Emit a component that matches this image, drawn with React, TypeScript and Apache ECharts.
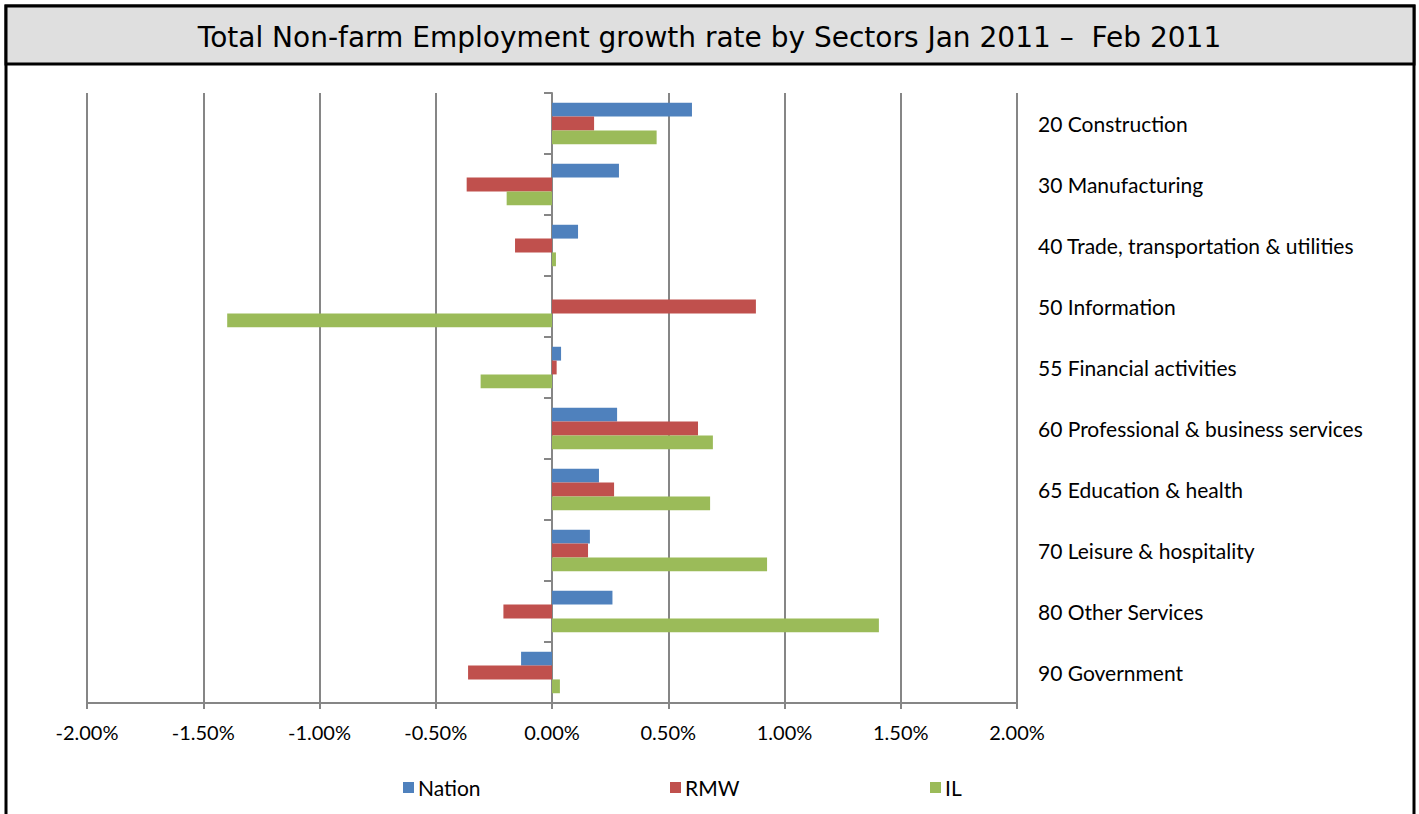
import React, { useEffect, useRef } from "react";
import * as echarts from "echarts";

const categories = [
  "20 Construction",
  "30 Manufacturing",
  "40 Trade, transportation & utilities",
  "50 Information",
  "55 Financial activities",
  "60 Professional & business services",
  "65 Education & health",
  "70 Leisure & hospitality",
  "80 Other Services",
  "90 Government",
];

const nation = [0.602, 0.288, 0.112, 0.0, 0.039, 0.28, 0.202, 0.163, 0.26, -0.133];
const rmw = [0.181, -0.367, -0.159, 0.877, 0.02, 0.628, 0.267, 0.155, -0.209, -0.361];
const il = [0.45, -0.195, 0.017, -1.397, -0.307, 0.692, 0.68, 0.925, 1.406, 0.034];

const seriesNames = ["Nation", "RMW", "IL"];
const colors = ["#4f81bd", "#c0504d", "#9bbb59"];

const titleText = "Total Non-farm Employment growth rate by Sectors Jan 2011 \u2013  Feb 2011";

export default function App() {
  const ref = useRef<HTMLDivElement>(null);
  useEffect(() => {
    if (!ref.current) return;
    const chart = echarts.init(ref.current, null, { renderer: "svg" });
    const font = "Lato, 'Open Sans', sans-serif";
    const legendLefts = [398, 665, 925];
    chart.setOption({
      animation: false,
      backgroundColor: "#ffffff",
      title: {
        text: titleText,
        left: "center",
        top: 18,
        textStyle: {
          fontFamily: "'DejaVu Sans', Verdana, sans-serif",
          fontSize: 28,
          fontWeight: "normal",
          color: "#000",
        },
      },
      graphic: [
        {
          type: "rect",
          z: 0,
          shape: { x: 6, y: 6, width: 1408, height: 830 },
          style: { fill: "none", stroke: "#000", lineWidth: 3 },
        },
        {
          type: "rect",
          z: 0,
          shape: { x: 6, y: 6, width: 1408, height: 58 },
          style: { fill: "#dfdfdf", stroke: "#000", lineWidth: 3 },
        },
      ],
      legend: seriesNames.map((n, i) => ({
        data: [n],
        left: legendLefts[i],
        top: 772,
        itemWidth: 11,
        itemHeight: 11,
        itemGap: 6,
        icon: "rect",
        textStyle: { fontFamily: font, fontSize: 21, color: "#000", padding: [0, 0, 0, -1] },
      })),
      grid: { left: 87, right: 402, top: 93, bottom: 111, containLabel: false },
      xAxis: {
        type: "value",
        min: -2,
        max: 2,
        interval: 0.5,
        axisLine: { show: true, onZero: false, lineStyle: { color: "#868686", width: 2 } },
        axisTick: { show: true, length: 6, lineStyle: { color: "#868686", width: 2 } },
        splitLine: { show: true, lineStyle: { color: "#868686", width: 2 } },
        axisLabel: {
          margin: 19,
          fontFamily: font,
          fontSize: 20,
          color: "#000",
          formatter: (v: number) => v.toFixed(2) + "%",
        },
      },
      yAxis: [
        {
          type: "category",
          data: categories,
          inverse: true,
          axisLine: { show: true, onZero: true, lineStyle: { color: "#868686", width: 2 } },
          axisTick: { show: true, length: 8, lineStyle: { color: "#868686", width: 2 } },
          axisLabel: { show: false },
          splitLine: { show: false },
        },
        {
          type: "category",
          data: categories,
          inverse: true,
          position: "right",
          axisLine: { show: false, onZero: false },
          axisTick: { show: false },
          axisLabel: {
            show: true,
            margin: 21,
            align: "left",
            fontFamily: font,
            fontSize: 21,
            color: "#000",
          },
          splitLine: { show: false },
        },
      ],
      series: [nation, rmw, il].map((d, i) => ({
        name: seriesNames[i],
        type: "bar",
        yAxisIndex: 0,
        data: d,
        barGap: "0%",
        barCategoryGap: "32%",
        itemStyle: { color: colors[i] },
      })),
    });
    return () => chart.dispose();
  }, []);
  return (
    <div
      ref={ref}
      style={{ position: "absolute", left: 0, top: 0, width: 1419, height: 814 }}
    />
  );
}
